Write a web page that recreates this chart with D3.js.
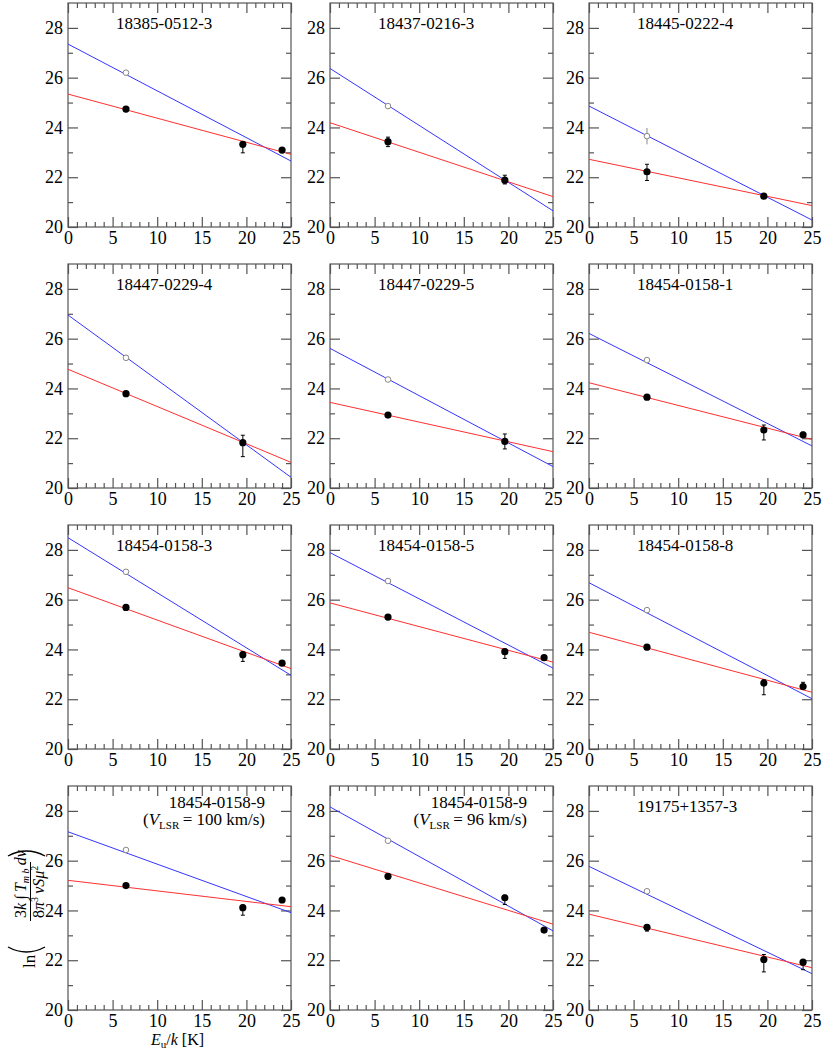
<!doctype html>
<html lang="en">
<head>
<meta charset="UTF-8">
<title>Rotation diagrams</title>
<script src="https://cdn.jsdelivr.net/npm/d3@7"></script>
<style>
    body { margin: 0; background: #fff; }
</style>
</head>
<body>
<script>
// --- data ---
var names = ["18385-0512-3", "18437-0216-3", "18445-0222-4",
             "18447-0229-4", "18447-0229-5", "18454-0158-1",
             "18454-0158-3", "18454-0158-5", "18454-0158-8",
             "18454-0158-9", "18454-0158-9", "19175+1357-3"];
var vlsr = [null, null, null, null, null, null, null, null, null, 100, 96, null];

var energies = [6.5, 19.6, 24.0];

// open symbols (blue fit), first level only
var openVals = [26.2, 24.86, 23.65, 25.23, 24.36, 25.14, 27.12, 26.75, 25.58, 26.43, 26.80, 24.77];
var openErr = [0.05, 0.1, 0.33, 0.08, 0.1, 0.08, 0.06, 0.08, 0.12, 0.05, 0.05, 0.05];

// filled symbols (red fit)
var filledVals = [
    [24.74, 23.32, 23.09], [23.43, 21.88, null], [22.22, 21.24, null],
    [23.79, 21.82, null], [22.93, 21.87, null], [23.65, 22.33, 22.14],
    [25.69, 23.79, 23.45], [25.30, 23.91, 23.67], [24.09, 22.65, 22.51],
    [25.00, 24.11, 24.42], [25.37, 24.51, 23.21], [23.32, 22.03, 21.92]
];
var errUp = [
    [0.05, 0.10, 0.08], [0.18, 0.20, 0], [0.30, 0.08, 0],
    [0.06, 0.30, 0], [0.06, 0.30, 0], [0.08, 0.20, 0.10],
    [0.06, 0.10, 0.06], [0.08, 0.10, 0.08], [0.10, 0.13, 0.17],
    [0.08, 0.10, 0.06], [0.06, 0.10, 0.06], [0.10, 0.20, 0.10]
];
var errDown = [
    [0.05, 0.34, 0.10], [0.20, 0.15, 0], [0.35, 0.08, 0],
    [0.06, 0.56, 0], [0.06, 0.30, 0], [0.08, 0.40, 0.10],
    [0.06, 0.27, 0.06], [0.08, 0.27, 0.08], [0.10, 0.47, 0.10],
    [0.08, 0.30, 0.06], [0.06, 0.27, 0.06], [0.15, 0.50, 0.30]
];

// fitted lines: value at E=0 and at E=25
var blueFit = [[27.35, 22.65], [26.37, 20.65], [24.86, 20.28],
               [26.95, 20.43], [25.61, 20.86], [26.21, 21.69],
               [28.49, 22.96], [27.89, 23.25], [26.68, 22.02],
               [27.16, 23.91], [28.16, 23.18], [25.77, 21.46]];
var redFit = [[25.34, 22.92], [24.19, 21.22], [22.72, 20.86],
              [24.77, 21.03], [23.44, 21.46], [24.23, 21.95],
              [26.48, 23.23], [25.87, 23.49], [24.69, 22.28],
              [25.21, 24.15], [26.21, 23.45], [23.85, 21.70]];

var xMajor = [0, 5, 10, 15, 20, 25];
var xMinor = d3.range(0, 26).filter(function (d) { return d % 5 !== 0; });
var yMajor = [20, 22, 24, 26, 28];
var yMinor = [21, 23, 25, 27];

// --- layout ---
var w = 830, h = 1050;
var colLeft = [68, 330, 589];
var rowTop = [3, 264, 525, 786];
var pw = 223, ph = 224;
var axisColor = "#555";

var svg = d3.select("body").append("svg").attr("width", w).attr("height", h)
    .attr("font-family", "Liberation Serif");

var x = d3.scaleLinear().domain([0, 25]).range([0, pw]);
var y = d3.scaleLinear().domain([20, 29]).range([ph, 0]);

svg.append("defs").append("clipPath").attr("id", "plotclip")
    .append("rect").attr("width", pw).attr("height", ph);

function styleAxis(sel) {
    sel.select(".domain").remove();
    sel.attr("font-family", "Liberation Serif").attr("font-size", null);
    sel.selectAll(".tick line").attr("stroke", axisColor).attr("stroke-width", 1.2);
    sel.selectAll(".tick text").attr("fill", "#000").style("font-size", "18px");
}

names.forEach(function (name, i) {
    var col = i % 3, row = Math.floor(i / 3);
    var g = svg.append("g").attr("transform", "translate(" + colLeft[col] + "," + rowTop[row] + ")");

    // axes with inward ticks on all four sides
    g.append("g").attr("transform", "translate(0," + ph + ")")
        .call(d3.axisBottom(x).tickValues(xMajor).tickSize(-10).tickPadding(4).tickFormat(d3.format("d")))
        .call(styleAxis);
    g.append("g").attr("transform", "translate(0," + ph + ")")
        .call(d3.axisBottom(x).tickValues(xMinor).tickSize(-5).tickFormat(""))
        .call(styleAxis);
    g.append("g")
        .call(d3.axisTop(x).tickValues(xMajor).tickSize(-10).tickFormat(""))
        .call(styleAxis);
    g.append("g")
        .call(d3.axisTop(x).tickValues(xMinor).tickSize(-5).tickFormat(""))
        .call(styleAxis);
    g.append("g")
        .call(d3.axisLeft(y).tickValues(yMajor).tickSize(-10).tickPadding(5).tickFormat(d3.format("d")))
        .call(styleAxis);
    g.append("g")
        .call(d3.axisLeft(y).tickValues(yMinor).tickSize(-5).tickFormat(""))
        .call(styleAxis);
    g.append("g").attr("transform", "translate(" + pw + ",0)")
        .call(d3.axisRight(y).tickValues(yMajor).tickSize(-10).tickFormat(""))
        .call(styleAxis);
    g.append("g").attr("transform", "translate(" + pw + ",0)")
        .call(d3.axisRight(y).tickValues(yMinor).tickSize(-5).tickFormat(""))
        .call(styleAxis);

    g.append("rect").attr("width", pw).attr("height", ph)
        .attr("fill", "none").attr("stroke", axisColor).attr("stroke-width", 1.2);

    // fitted lines
    var plot = g.append("g").attr("clip-path", "url(#plotclip)");
    [[blueFit[i], "#3535ff"], [redFit[i], "#ff3030"]].forEach(function (f) {
        plot.append("line")
            .attr("x1", x(0)).attr("y1", y(f[0][0]))
            .attr("x2", x(25)).attr("y2", y(f[0][1]))
            .attr("stroke", f[1]).attr("stroke-width", 1);
    });

    // open symbol with error bar
    var ox = x(energies[0]);
    var ob = plot.append("g").attr("stroke", "#888").attr("stroke-width", 1);
    ob.append("line").attr("x1", ox).attr("x2", ox)
        .attr("y1", y(openVals[i] + openErr[i])).attr("y2", y(openVals[i] - openErr[i]));
    ob.append("circle").attr("cx", ox).attr("cy", y(openVals[i])).attr("r", 2.8).attr("fill", "#fff");

    // filled symbols with error bars
    var pts = filledVals[i].map(function (v, k) {
        return {e: energies[k], v: v, up: errUp[i][k], dn: errDown[i][k]};
    }).filter(function (d) { return d.v !== null; });

    var fb = plot.selectAll("g.fp").data(pts).enter().append("g").attr("class", "fp");
    fb.append("line")
        .attr("x1", function (d) { return x(d.e); }).attr("x2", function (d) { return x(d.e); })
        .attr("y1", function (d) { return y(d.v + d.up); })
        .attr("y2", function (d) { return y(d.v - d.dn); })
        .attr("stroke", "#000").attr("stroke-width", 1);
    fb.append("line")
        .attr("x1", function (d) { return x(d.e) - 2; }).attr("x2", function (d) { return x(d.e) + 2; })
        .attr("y1", function (d) { return y(d.v - d.dn); }).attr("y2", function (d) { return y(d.v - d.dn); })
        .attr("stroke", "#000").attr("stroke-width", 1);
    fb.append("line")
        .attr("x1", function (d) { return x(d.e) - 2; }).attr("x2", function (d) { return x(d.e) + 2; })
        .attr("y1", function (d) { return y(d.v + d.up); }).attr("y2", function (d) { return y(d.v + d.up); })
        .attr("stroke", "#000").attr("stroke-width", 1);
    fb.append("circle")
        .attr("cx", function (d) { return x(d.e); })
        .attr("cy", function (d) { return y(d.v); })
        .attr("r", 3.6).attr("fill", "#000");

    // titles
    if (vlsr[i] === null) {
        g.append("text").attr("x", 48).attr("y", 26)
            .attr("font-size", "17px").text(name);
    } else {
        g.append("text").attr("x", 197).attr("y", 22).attr("text-anchor", "end")
            .attr("font-size", "17px").text(name);
        var t = g.append("text").attr("x", 197).attr("y", 39).attr("text-anchor", "end")
            .attr("font-size", "17px");
        t.append("tspan").text("(");
        t.append("tspan").attr("font-style", "italic").text("V");
        t.append("tspan").attr("font-size", "11px").attr("dy", 4).text("LSR");
        t.append("tspan").attr("dy", -4).text("\u2009= " + vlsr[i] + " km/s)");
    }
});

// y axis label: ln( 3k ∫ T_mb dv / 8π³ ν S μ² ), rotated
var yl = svg.append("g").attr("transform", "translate(30,891) rotate(-90)");
yl.append("text").attr("x", -77).attr("y", 5).attr("font-size", "17px").text("ln");
// big parentheses
yl.append("path").attr("d", "M-56,-22 Q-66,-3.5 -56,15")
    .attr("fill", "none").attr("stroke", "#000").attr("stroke-width", 1.4);
yl.append("path").attr("d", "M35,-22 Q45,-3.5 35,15")
    .attr("fill", "none").attr("stroke", "#000").attr("stroke-width", 1.4);
var num = yl.append("text").attr("x", -27).attr("y", -4).attr("font-size", "16px");
num.append("tspan").text("3");
num.append("tspan").attr("font-style", "italic").text("k");
num.append("tspan").text("\u2009\u222B\u2009");
num.append("tspan").attr("font-style", "italic").text("T");
num.append("tspan").attr("font-style", "italic").attr("font-size", "10px").attr("dy", 3).text("m b");
num.append("tspan").attr("font-style", "italic").attr("dy", -3).text("\u2009dv");
yl.append("line").attr("x1", -30).attr("x2", 29).attr("y1", 0.5).attr("y2", 0.5)
    .attr("stroke", "#000").attr("stroke-width", 1);
var den = yl.append("text").attr("x", -27).attr("y", 14).attr("font-size", "16px");
den.append("tspan").text("8");
den.append("tspan").attr("font-style", "italic").text("\u03C0");
den.append("tspan").attr("font-size", "10px").attr("dy", -6).text("3");
den.append("tspan").attr("font-style", "italic").attr("dy", 6).text("\u2009\u03BDS\u03BC");
den.append("tspan").attr("font-size", "10px").attr("dy", -6).text("2");

// x axis label
var xl = svg.append("text").attr("x", 151).attr("y", 1045).attr("font-size", "16px");
xl.append("tspan").attr("font-style", "italic").text("E");
xl.append("tspan").attr("font-size", "11px").attr("dy", 3).text("u");
xl.append("tspan").attr("dy", -3).text("/");
xl.append("tspan").attr("font-style", "italic").text("k");
xl.append("tspan").text(" [K]");
</script>
</body>
</html>
